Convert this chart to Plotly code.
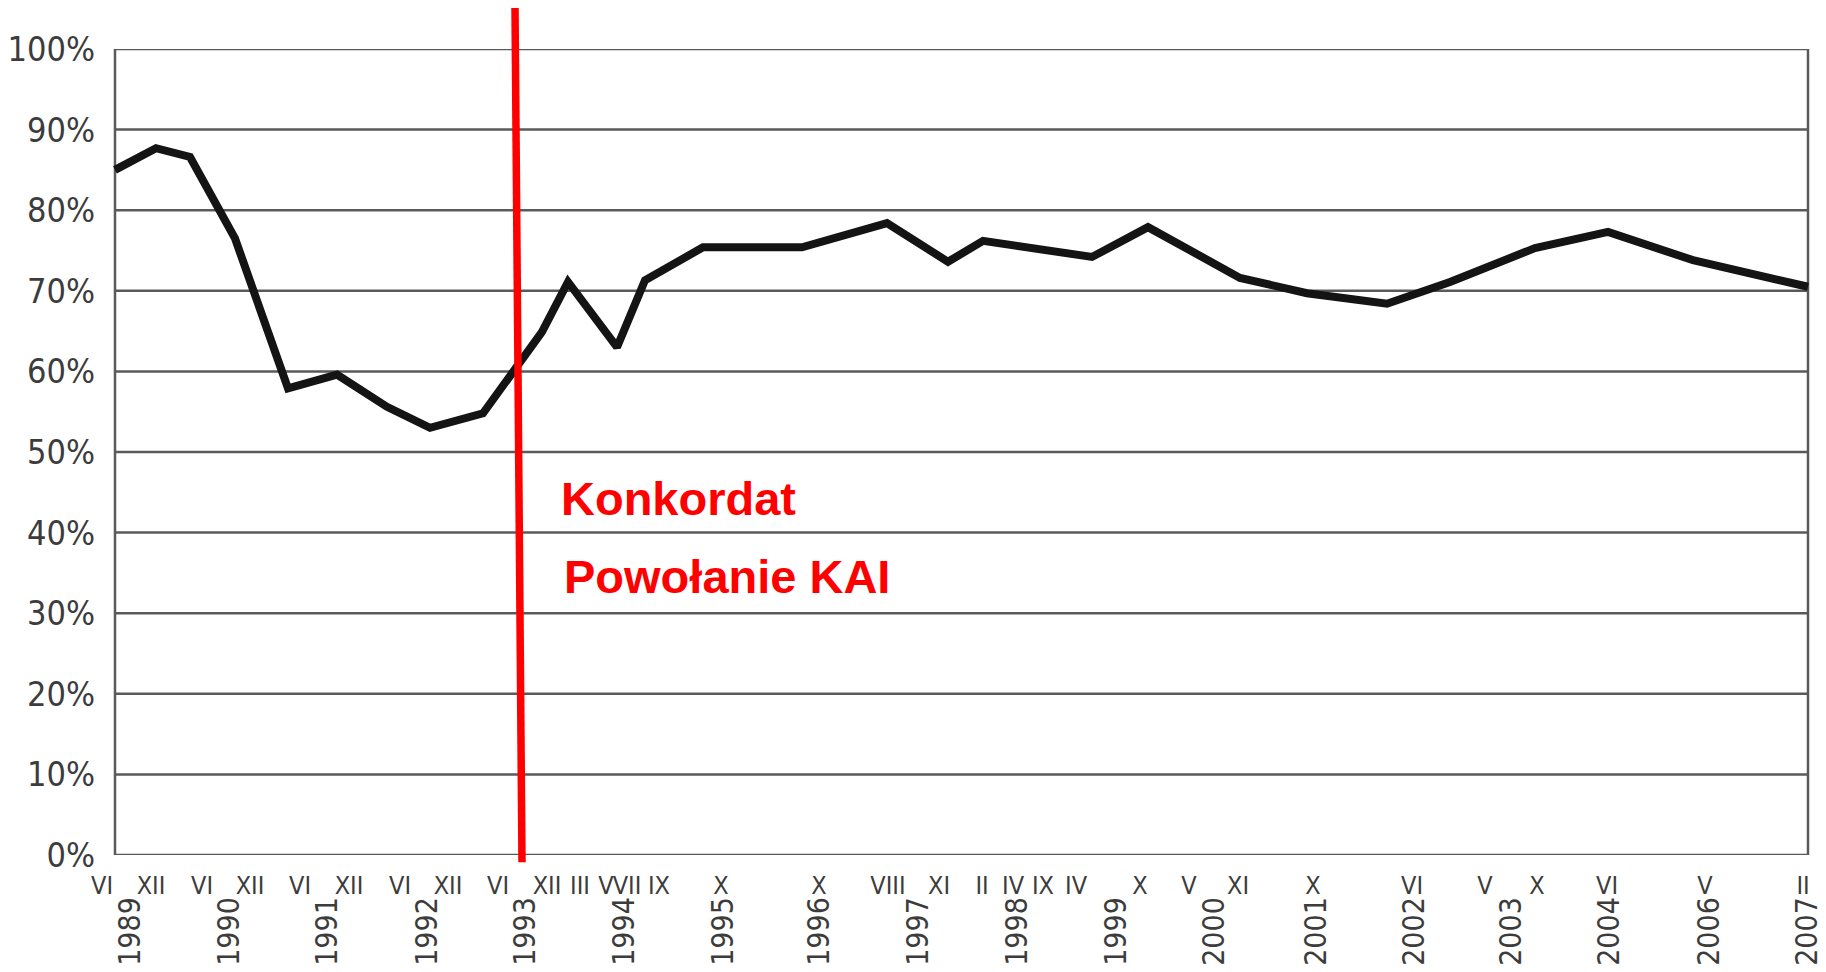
import plotly.graph_objects as go

# ---- data ----
# x positions are in axis units (0 = left frame, 1693 = right frame)
point_x = [0, 41, 75, 120, 173, 222, 272, 315, 368, 427, 453, 502, 530, 588,
           687, 772, 833, 868, 977, 1033, 1125, 1192, 1272, 1335, 1420, 1493,
           1578, 1693]
point_val = [85.0, 87.7, 86.6, 76.5, 57.9, 59.6, 55.6, 53.0, 54.8, 64.9, 71.1,
             63.0, 71.3, 75.4, 75.4, 78.4, 73.6, 76.2, 74.2, 77.9, 71.6, 69.7,
             68.4, 71.1, 75.3, 77.3, 73.8, 70.5]

month_pos = [-13, 36, 87, 135, 185, 234, 285, 333, 383, 432, 465, 491, 512, 544,
             606, 704, 773, 824, 867, 898, 928, 961, 1025, 1074, 1123, 1198,
             1297, 1370, 1422, 1492, 1590, 1688]
month_lbl = ["VI", "XII", "VI", "XII", "VI", "XII", "VI", "XII", "VI", "XII",
             "III", "V", "VII", "IX", "X", "X", "VIII", "XI", "II", "IV", "IX",
             "IV", "X", "V", "XI", "X", "VI", "V", "X", "VI", "V", "II"]

year_pos = [15, 114, 212, 312, 410, 509, 608, 704, 803, 902, 1001, 1099, 1201,
            1299, 1396, 1494, 1594, 1692]
year_lbl = ["1989", "1990", "1991", "1992", "1993", "1994", "1995", "1996",
            "1997", "1998", "1999", "2000", "2001", "2002", "2003", "2004",
            "2006", "2007"]

y_ticks = [0, 10, 20, 30, 40, 50, 60, 70, 80, 90, 100]
y_lbl = [f"{v}%" for v in y_ticks]

event_x = [400, 407]          # red marker line (top, bottom)
event_text = ["Konkordat", "Powołanie KAI"]
frame_x = [0, 1693]

NARROW = "DejaVu Sans Condensed, Liberation Sans Narrow, sans-serif"
GRID = "#5a5a5a"
LBL = "#3c3c3c"

fig = go.Figure()
fig.add_trace(go.Scatter(
    x=point_x, y=point_val, mode="lines",
    line=dict(color="#141414", width=8, shape="linear"),
    hoverinfo="skip", showlegend=False))

shapes = []
for v in y_ticks:
    shapes.append(dict(type="line", xref="x", yref="y", x0=frame_x[0], x1=frame_x[1],
                       y0=v, y1=v, line=dict(color=GRID, width=2.5), layer="below"))
for fx in frame_x:
    shapes.append(dict(type="line", xref="x", yref="y", x0=fx, x1=fx, y0=0, y1=100,
                       line=dict(color=GRID, width=2.5), layer="below"))
shapes.append(dict(type="line", xref="x", yref="paper", x0=event_x[0], x1=event_x[1],
                   y0=1.052, y1=-0.009, line=dict(color="#ff0000", width=7.5)))

annotations = []
for p, t in zip(year_pos, year_lbl):
    annotations.append(dict(x=p, y=-0.05, xref="x", yref="paper", text=t,
                            showarrow=False, textangle=-90, xanchor="center",
                            yanchor="top", font=dict(family=NARROW, size=30, color=LBL)))
annotations.append(dict(x=444, y=44.2, xref="x", yref="y", text=event_text[0],
                        showarrow=False, xanchor="left", yanchor="middle",
                        font=dict(family="Liberation Sans, Arial, sans-serif", size=47,
                                  color="#ff0000", weight="bold")))
annotations.append(dict(x=447, y=34.5, xref="x", yref="y", text=event_text[1],
                        showarrow=False, xanchor="left", yanchor="middle",
                        font=dict(family="Liberation Sans, Arial, sans-serif", size=47,
                                  color="#ff0000", weight="bold")))

# page body adds an 8px offset, so the figure is sized and placed to compensate
fig.update_layout(
    width=1818, height=964,
    margin=dict(l=92, r=10, t=41, b=117, autoexpand=False),
    paper_bgcolor="white", plot_bgcolor="white",
    shapes=shapes, annotations=annotations,
    xaxis=dict(range=[-15, 1701], showgrid=False, zeroline=False, showline=False,
               automargin=False,
               tickmode="array", tickvals=month_pos, ticktext=month_lbl, ticks="",
               tickangle=0, ticklabelstandoff=13,
               tickfont=dict(family=NARROW, size=25, color=LBL)),
    yaxis=dict(range=[0, 100], showgrid=False, zeroline=False, showline=False,
               automargin=False,
               tickmode="array", tickvals=y_ticks, ticktext=y_lbl, ticks="",
               ticklabelstandoff=4,
               tickfont=dict(family=NARROW, size=34, color=LBL)),
)

fig.write_html("out.html")
